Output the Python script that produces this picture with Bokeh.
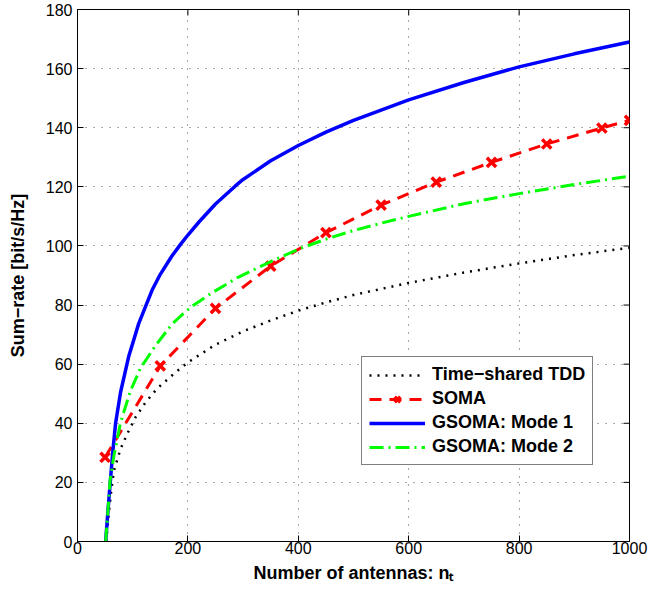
import math
from bokeh.plotting import figure
from bokeh.models import FixedTicker, Legend, LegendItem
from bokeh.embed import file_html
from bokeh.resources import INLINE

# ---- data ----
x_tdd = [52, 57, 61.6, 66, 78, 90, 105, 123, 140, 150, 175, 200, 250, 300, 350, 400, 450, 500, 600, 700, 800, 900, 1000]
y_tdd = [0, 10, 17.9, 24, 31.3, 36.4, 42, 47, 50.8, 52.7, 56.8, 60.6, 66.6, 71.1, 74.8, 78.1, 80.9, 83.4, 87.5, 91.0, 94.1, 96.9, 99.4]

x_soma = [50, 150, 250, 350, 450, 550, 650, 750, 850, 950, 1000]
y_soma = [28.5, 59.4, 78.9, 93.2, 104.5, 113.8, 121.6, 128.3, 134.5, 139.9, 142.5]

x_mode1 = [51, 55, 60, 64, 69, 78, 93, 111, 135, 150, 171, 187, 200, 220, 250, 286, 300, 350, 400, 450, 500, 600, 700, 800, 900, 1000]
y_mode1 = [0, 10, 21.5, 30.5, 40, 50.5, 62.8, 73.8, 85.0, 90.4, 96.6, 100.6, 103.7, 108.1, 114.2, 120.3, 122.5, 128.8, 134.0, 138.5, 142.5, 149.4, 155.3, 160.6, 165.0, 169.0]

x_mode2 = [51, 55, 59, 66, 78, 96, 114, 141, 171, 187, 208, 244, 290, 350, 400, 450, 500, 550, 600, 700, 800, 900, 1000]
y_mode2 = [0, 10, 20.6, 29, 40.3, 51, 58.6, 66.2, 73.5, 76.3, 79.7, 84.2, 89.3, 94.7, 98.9, 102.3, 105.2, 107.7, 110.0, 114.3, 117.7, 120.8, 123.6]

x_ticks = [0, 200, 400, 600, 800, 1000]
y_ticks = [0, 20, 40, 60, 80, 100, 120, 140, 160, 180]

series_names = ["Time\u2212shared TDD", "SOMA", "GSOMA: Mode 1", "GSOMA: Mode 2"]
x_title = "Number of antennas: n\u209c"
y_title = "Sum\u2212rate [bit/s/Hz]"

FONT = "Liberation Sans"

p = figure(width=664, height=588, x_range=(x_ticks[0], x_ticks[-1]), y_range=(y_ticks[0], y_ticks[-1]),
           output_backend="svg", toolbar_location=None,
           min_border_left=77, min_border_right=35, min_border_top=9, min_border_bottom=47)
p.background_fill_color = "white"
p.border_fill_color = "white"
p.outline_line_color = "black"
p.outline_line_width = 1

# grid
for g in (p.xgrid, p.ygrid):
    g.grid_line_color = "#555555"
    g.grid_line_dash = "1 7"
    g.grid_line_width = 1
p.xgrid.ticker = FixedTicker(ticks=x_ticks)
p.ygrid.ticker = FixedTicker(ticks=y_ticks)

# axes
for ax, ticks in ((p.xaxis[0], x_ticks), (p.yaxis[0], y_ticks)):
    ax.ticker = FixedTicker(ticks=ticks)
    ax.major_tick_in = 6
    ax.major_tick_out = 0
    ax.minor_tick_line_color = None
    ax.axis_line_color = "black"
    ax.major_tick_line_color = "black"
    ax.major_label_text_font = FONT
    ax.major_label_text_font_size = "16px"
    ax.major_label_text_color = "black"
    ax.axis_label_text_font = FONT
    ax.axis_label_text_font_size = "18px"
    ax.axis_label_text_font_style = "bold"
    ax.axis_label_text_color = "black"

p.xaxis[0].axis_label = x_title
p.xaxis[0].major_label_standoff = 0
p.xaxis[0].axis_label_standoff = 6
p.yaxis[0].axis_label = y_title
p.yaxis[0].major_label_standoff = 5
p.yaxis[0].axis_label_standoff = 15

# mirrored inward ticks on the right and top edges of the box
p.ray(x=[x_ticks[-1]] * len(y_ticks), y=y_ticks, length=6, length_units="screen",
      angle=math.pi, line_color="black", line_width=1)
p.ray(x=x_ticks, y=[y_ticks[-1]] * len(x_ticks), length=6, length_units="screen",
      angle=-math.pi / 2, line_color="black", line_width=1)

# series
r_tdd = p.line(x_tdd, y_tdd, line_color="black", line_width=2.5, line_dash="2 6")
r_soma = p.line(x_soma, y_soma, line_color="#ff0000", line_width=3, line_dash="12 8")
r_somam = p.scatter(x_soma, y_soma, marker="x", size=13, line_color="#ff0000", line_width=3.5)
r_m1 = p.line(x_mode1, y_mode1, line_color="#0000ff", line_width=3.5)
r_m2 = p.line(x_mode2, y_mode2, line_color="#00ff00", line_width=3, line_dash="14 5 2 5")

legend = Legend(items=[
    LegendItem(label=series_names[0], renderers=[r_tdd]),
    LegendItem(label=series_names[1], renderers=[r_soma, r_somam]),
    LegendItem(label=series_names[2], renderers=[r_m1]),
    LegendItem(label=series_names[3], renderers=[r_m2]),
], location=(284, 76))
legend.label_text_font = FONT
legend.label_text_font_size = "18px"
legend.label_text_font_style = "bold"
legend.label_text_color = "black"
legend.glyph_width = 56
legend.glyph_height = 20
legend.label_height = 20
legend.label_standoff = 7
legend.spacing = 3
legend.padding = 7
legend.margin = 0
legend.border_line_color = "black"
legend.border_line_width = 1
legend.background_fill_color = "white"
legend.background_fill_alpha = 1
p.add_layout(legend, "center")

open("out.html", "w").write(file_html(p, INLINE))
